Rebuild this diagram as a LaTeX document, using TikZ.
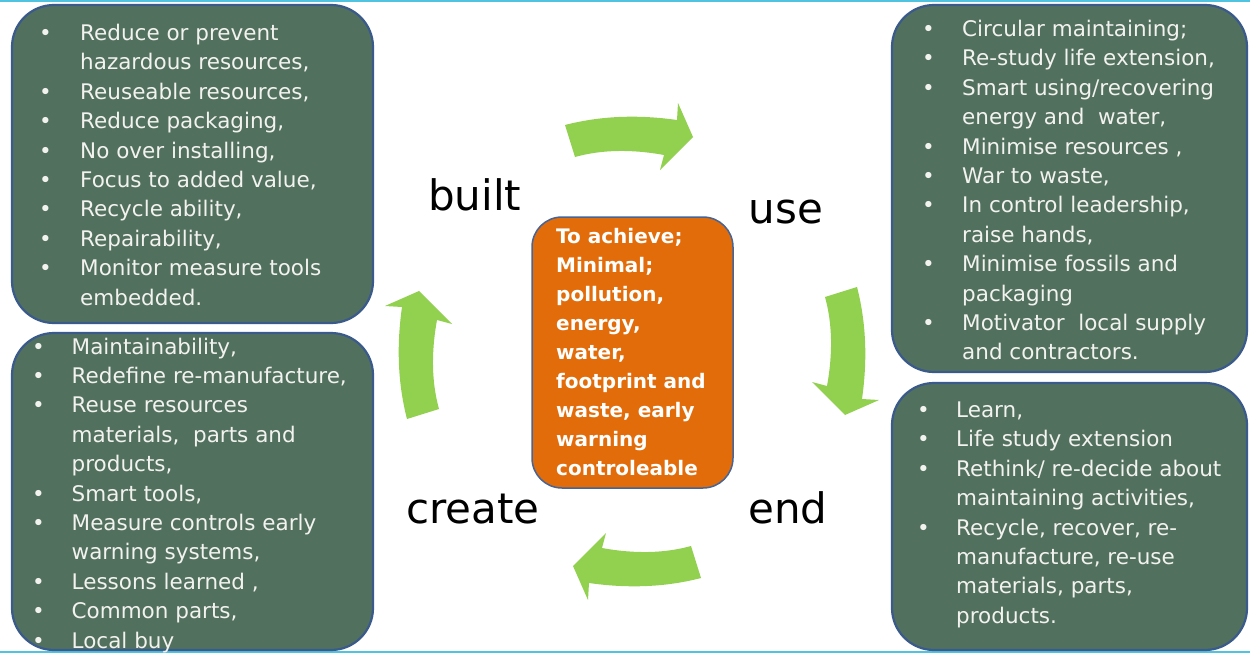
\documentclass[tikz,border=0pt]{standalone}
\usepackage{fontspec}
\setmainfont{DejaVu Sans}
\definecolor{marble}{RGB}{82,112,94}
\definecolor{boxedge}{RGB}{58,90,140}
\definecolor{centeredge}{RGB}{70,100,150}
\definecolor{orangefill}{RGB}{227,108,10}
\definecolor{arrowgreen}{RGB}{146,208,80}
\definecolor{rulecyan}{RGB}{80,195,225}
\definecolor{offwhite}{RGB}{242,242,238}
\newlength\bcol
\newcommand\itm{\makebox[\bcol][l]{•}}
\newcommand\cont{\hspace*{\bcol}}
% one curved arrow (the top one), in picture coordinates
\newcommand\cyclearrowpath{%
  (565,-125) .. controls (599.7,-116) and (637,-114.3) .. (677,-120)
  -- (678,-103) -- (693,-137) -- (660,-170) -- (664,-155)
  .. controls (631,-149) and (601.3,-149.7) .. (575,-157) -- cycle}
\tikzset{
  greenbox/.style={fill=marble, draw=boxedge, line width=2.2pt, rounded corners=42pt},
  centerbox/.style={fill=orangefill, draw=centeredge, line width=1.5pt, rounded corners=30pt},
  listtext/.style={anchor=base west, inner sep=0pt, text=offwhite, font=\fontsize{21.5}{29.4}\selectfont},
  centertext/.style={anchor=base west, inner sep=0pt, text=white, font=\bfseries\fontsize{20}{29.1}\selectfont},
  lbl/.style={anchor=base west, inner sep=0pt, text=black, font=\fontsize{42}{50}\selectfont},
  cyclearrow/.style={fill=arrowgreen}
}
\begin{document}
\begin{tikzpicture}[x=1pt,y=1pt]
\useasboundingbox (0,0) rectangle (1250,-653);
\fill[white] (0,0) rectangle (1250,-653);
% rules
\fill[rulecyan] (0,0) rectangle (1250,-2.2);
\fill[rulecyan] (0,-650.5) rectangle (1250,-653);
% boxes
\path[greenbox] (12,-5) rectangle (373,-323);
\path[greenbox] (12,-333) rectangle (373,-650);
\path[greenbox] (892,-5) rectangle (1247,-372);
\path[greenbox] (892,-383) rectangle (1247,-650);
\path[centerbox] (532,-217) rectangle (733,-488);
% list texts
\node[listtext] (tl) at (39,-40.5) {\setlength\bcol{41pt}\begin{tabular}[t]{@{}l@{}}
\itm Reduce or prevent\\
\cont hazardous resources,\\
\itm Reuseable resources,\\
\itm Reduce packaging,\\
\itm No over installing,\\
\itm Focus to added value,\\
\itm Recycle ability,\\
\itm Repairability,\\
\itm Monitor measure tools\\
\cont embedded.
\end{tabular}};
\node[listtext] (bl) at (32,-354) {\setlength\bcol{39.5pt}\begin{tabular}[t]{@{}l@{}}
\itm Maintainability,\\
\itm Redefine re-manufacture,\\
\itm Reuse resources\\
\cont materials,\ \ parts and\\
\cont products,\\
\itm Smart tools,\\
\itm Measure controls early\\
\cont warning systems,\\
\itm Lessons learned ,\\
\itm Common parts,\\
\itm Local buy
\end{tabular}};
\node[listtext] (tr) at (922,-36.5) {\setlength\bcol{40pt}\begin{tabular}[t]{@{}l@{}}
\itm Circular maintaining;\\
\itm Re-study life extension,\\
\itm Smart using/recovering\\
\cont energy and\ \ water,\\
\itm Minimise resources ,\\
\itm War to waste,\\
\itm In control leadership,\\
\cont raise hands,\\
\itm Minimise fossils and\\
\cont packaging\\
\itm Motivator\ \ local supply\\
\cont and contractors.
\end{tabular}};
\node[listtext] (br) at (917,-417.5) {\setlength\bcol{39pt}\begin{tabular}[t]{@{}l@{}}
\itm Learn,\\
\itm Life study extension\\
\itm Rethink/ re-decide about\\
\cont maintaining activities,\\
\itm Recycle, recover, re-\\
\cont manufacture, re-use\\
\cont materials, parts,\\
\cont products.
\end{tabular}};
% center
\node[centertext] (goal) at (556,-243) {\begin{tabular}[t]{@{}l@{}}
To achieve;\\
Minimal;\\
pollution,\\
energy,\\
water,\\
footprint and\\
waste, early\\
warning\\
controleable
\end{tabular}};
% phase labels
\node[lbl] (built) at (428,-210) {built};
\node[lbl] (use) at (748.5,-223) {use};
\node[lbl] (create) at (406,-523) {create};
\node[lbl] (end) at (748,-523) {end};
% cycle arrows
\fill[cyclearrow] \cyclearrowpath;
\fill[cyclearrow, shift={(-6,0)}, rotate around={-90:(633,-355)}] \cyclearrowpath;
\fill[cyclearrow, shift={(0,7)}, rotate around={180:(633,-355)}] \cyclearrowpath;
\fill[cyclearrow, shift={(4,4)}, rotate around={90:(633,-355)}] \cyclearrowpath;
\end{tikzpicture}
\end{document}
